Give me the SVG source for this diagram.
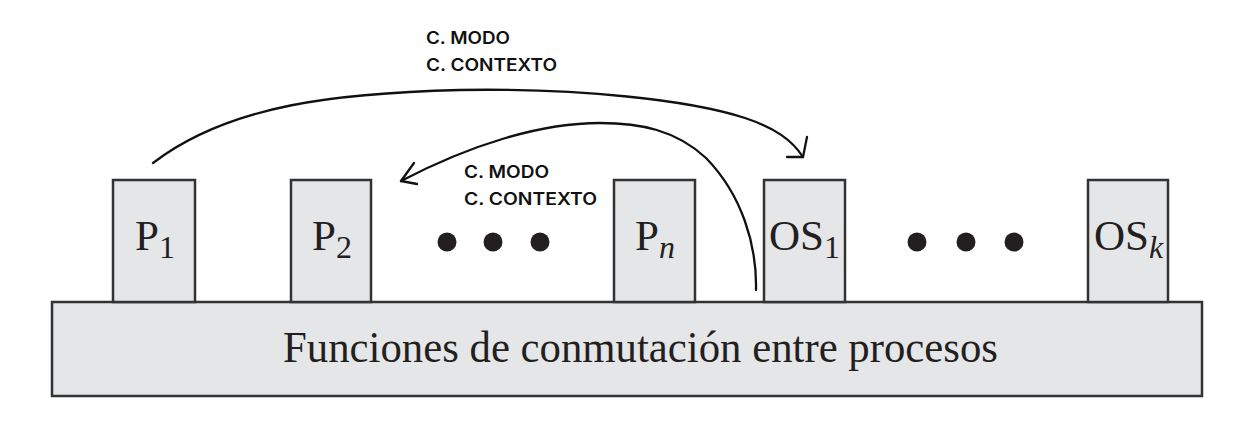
<svg xmlns="http://www.w3.org/2000/svg" width="1242" height="429" viewBox="0 0 1242 429">
<style>
.box{fill:#e5e6e8;stroke:#333;stroke-width:2.5}
.serif{font-family:"Liberation Serif","Times New Roman",serif;fill:#231f20}
.lbl{font-family:"Liberation Serif","Times New Roman",serif;font-size:43px;fill:#231f20}
.sub{font-size:32px}
.note{font-family:Inter,"Noto Sans",sans-serif;font-weight:600;font-size:17px;fill:#111}
.dot{fill:#231f20}
.conn{fill:none;stroke:#111;stroke-width:2.3;stroke-linecap:round;stroke-linejoin:round}
</style>
<rect width="1242" height="429" fill="#fff"/>
<g id="base">
<rect class="box" x="52" y="302" width="1150" height="94"/>
<text class="serif" x="283" y="362" font-size="45" textLength="715" lengthAdjust="spacingAndGlyphs">Funciones de conmutación entre procesos</text>
</g>
<g id="p1">
<rect class="box" x="113" y="180" width="82" height="122"/>
<text class="lbl" x="135" y="250">P<tspan class="sub" dy="8">1</tspan></text>
</g>
<g id="p2">
<rect class="box" x="291" y="180" width="80" height="122"/>
<text class="lbl" x="312" y="250">P<tspan class="sub" dy="8">2</tspan></text>
</g>
<g id="dots1">
<circle class="dot" cx="447" cy="242" r="9.5"/>
<circle class="dot" cx="493" cy="242" r="9.5"/>
<circle class="dot" cx="540" cy="242" r="9.5"/>
</g>
<g id="pn">
<rect class="box" x="614" y="180" width="81" height="122"/>
<text class="lbl" x="635" y="250">P<tspan class="sub" dy="8" font-style="italic">n</tspan></text>
</g>
<g id="os1">
<rect class="box" x="764" y="180" width="81" height="122"/>
<text class="lbl" x="769" y="250">OS<tspan class="sub" dy="8">1</tspan></text>
</g>
<g id="dots2">
<circle class="dot" cx="917" cy="242" r="9.5"/>
<circle class="dot" cx="966" cy="242" r="9.5"/>
<circle class="dot" cx="1014" cy="242" r="9.5"/>
</g>
<g id="osk">
<rect class="box" x="1088" y="180" width="80" height="122"/>
<text class="lbl" x="1094" y="250">OS<tspan class="sub" dy="8" font-style="italic">k</tspan></text>
</g>
<g id="connectors">
<path class="conn" d="M153,163 C230,104 340,93 460,90 C580,88 690,100 745,118 C775,128 792,140 803,157"/>
<path class="conn" d="M807,137 L803,157 L787,157"/>
<path class="conn" d="M756,290 C757,245 742,195 706,158 C676,130 640,123 600,123 C540,123 470,145 401,181"/>
<path class="conn" d="M414,163 L401,181 L417,184"/>
</g>
<g id="labels">
<text class="note" x="426" y="44" textLength="84" lengthAdjust="spacingAndGlyphs">C. MODO</text>
<text class="note" x="426" y="71" textLength="131" lengthAdjust="spacingAndGlyphs">C. CONTEXTO</text>
<text class="note" x="464" y="178" textLength="85" lengthAdjust="spacingAndGlyphs">C. MODO</text>
<text class="note" x="464" y="205" textLength="133" lengthAdjust="spacingAndGlyphs">C. CONTEXTO</text>
</g>
</svg>
